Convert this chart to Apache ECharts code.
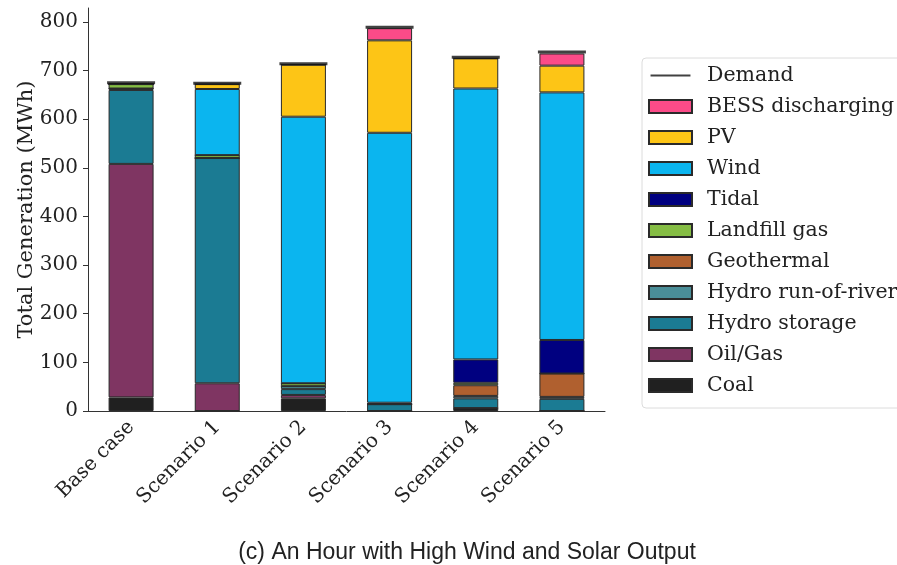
<!DOCTYPE html>
<html>
<head>
<meta charset="utf-8">
<script src="https://cdn.jsdelivr.net/npm/echarts@6/dist/echarts.min.js"></script>
<style>
    html, body { margin: 0; padding: 0; background: #fff; }
    #chart { width: 897px; height: 565px; }
</style>
</head>
<body>
<div id="chart"></div>
<script>
// scenarios on the x axis
var categories = ['Base case', 'Scenario 1', 'Scenario 2', 'Scenario 3', 'Scenario 4', 'Scenario 5']

// generation by source (MWh), stacked bottom-up
var coal = [28, 0, 26, 0, 6, 0]
var oilGas = [480, 57, 7, 0, 0, 0]
var hydroStorage = [152, 463, 12, 14, 20, 25]
var hydroRiver = [3, 0, 6, 0, 5, 4]
var geothermal = [0, 0, 0, 0, 22, 48]
var landfillGas = [9, 6, 6, 0, 5, 0]
var tidal = [0, 0, 0, 3, 48, 69]
var wind = [0, 136, 548, 555, 557, 509]
var pv = [0, 10, 107, 190, 62, 55]
var bess = [0, 0, 0, 25, 0, 25]
var demand = [675, 674, 714, 789, 727, 738]

var serif = 'DejaVu Serif'

var sources = [
    { name: 'Coal', data: coal, color: '#202020' },
    { name: 'Oil/Gas', data: oilGas, color: '#7f3562' },
    { name: 'Hydro storage', data: hydroStorage, color: '#1b7b93' },
    { name: 'Hydro run-of-river', data: hydroRiver, color: '#4a8e98' },
    { name: 'Geothermal', data: geothermal, color: '#b0602f' },
    { name: 'Landfill gas', data: landfillGas, color: '#85bd44' },
    { name: 'Tidal', data: tidal, color: '#000080' },
    { name: 'Wind', data: wind, color: '#0bb5ef' },
    { name: 'PV', data: pv, color: '#fdc516' },
    { name: 'BESS discharging', data: bess, color: '#fb4b88' },
]

var series = sources.map(function(s) {
    return {
        name: s.name,
        type: 'bar',
        stack: 'gen',
        barWidth: 45,
        data: s.data,
        itemStyle: {
            color: s.color,
            borderColor: '#2a2a2a',
            borderWidth: 1,
        },
    }
})

series.push({
    name: 'Demand',
    type: 'scatter',
    symbol: 'rect',
    symbolSize: [48, 3],
    data: demand,
    itemStyle: { color: '#111' },
    z: 5,
})

// legend top-down, like the figure
var legendNames = ['Demand'].concat(sources.map(function(s) { return s.name }).reverse())
var legendData = legendNames.map(function(n) {
    if (n === 'Demand') {
        return { name: n, icon: 'path://M0,0 M0,6 L43,6 L43,8 L0,8 Z M0,14' }
    }
    return { name: n, icon: 'rect' }
})

var chart = echarts.init(document.getElementById('chart'))
chart.setOption({
    animation: false,
    title: {
        text: '(c) An Hour with High Wind and Solar Output',
        left: 462,
        textAlign: 'center',
        top: 536,
        textStyle: {
            fontFamily: 'Liberation Sans',
            fontWeight: 'normal',
            fontSize: 23,
            color: '#222',
        },
    },
    legend: {
        orient: 'vertical',
        left: 642,
        top: 58,
        padding: [7, 10, 12, 6],
        itemWidth: 43,
        itemHeight: 13,
        itemGap: 10,
        borderColor: '#dcdcdc',
        borderWidth: 1,
        borderRadius: 4,
        data: legendData,
        textStyle: {
            fontFamily: serif,
            fontSize: 20.5,
            color: '#222',
            padding: [0, 0, 0, 10],
        },
    },
    grid: {
        left: 88,
        right: 292,
        top: 8,
        bottom: 154,
        containLabel: false,
    },
    xAxis: {
        type: 'category',
        data: categories,
        axisLine: { lineStyle: { color: '#333' } },
        axisTick: { alignWithLabel: true, length: 5, lineStyle: { color: '#333' } },
        axisLabel: {
            rotate: 45,
            margin: 13,
            fontFamily: serif,
            fontSize: 20,
            color: '#222',
        },
    },
    yAxis: {
        type: 'value',
        min: 0,
        max: 828.5,
        interval: 100,
        name: 'Total Generation (MWh)',
        nameLocation: 'middle',
        nameGap: 51,
        nameMoveOverlap: false,
        nameTextStyle: {
            fontFamily: serif,
            fontSize: 21,
            color: '#222',
        },
        splitLine: { show: false },
        axisLine: { show: true, lineStyle: { color: '#333' } },
        axisTick: { show: true, length: 5, lineStyle: { color: '#333' } },
        axisLabel: {
            showMaxLabel: false,
            margin: 10,
            fontFamily: serif,
            fontSize: 20,
            color: '#222',
        },
    },
    series: series,
})
</script>
</body>
</html>
